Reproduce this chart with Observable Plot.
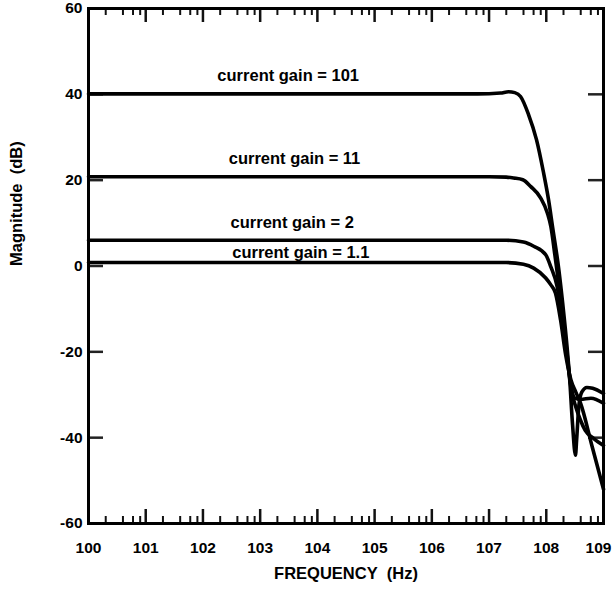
<!DOCTYPE html>
<html>
<head>
<meta charset="utf-8">
<script src="https://cdn.jsdelivr.net/npm/d3@7"></script>
<script src="https://cdn.jsdelivr.net/npm/@observablehq/plot@0.6"></script>
<style>
  html, body { margin: 0; padding: 0; background: #fff; }
  #chart g[aria-label$="tick label"] { font-size: 15.5px; font-weight: bold; fill: #000; }
</style>
</head>
<body>
<div id="chart"></div>
<script>
// Closed-loop magnitude response for four current gains.
// Frequencies are given as log10(Hz); magnitudes in dB.
const gainNames = ["current gain = 101", "current gain = 11", "current gain = 2", "current gain = 1.1"];

const logF101 = [0, 2, 4, 6, 6.8, 7.2, 7.34, 7.45, 7.55, 7.69, 7.83, 7.95, 8.04, 8.11, 8.22, 8.29, 8.36, 8.41, 8.46, 8.51, 8.53, 8.57, 8.62, 8.71, 8.81, 9.0];
const db101   = [40.1, 40.1, 40.1, 40.1, 40.1, 40.3, 40.6, 40.4, 39.5, 35.3, 29.4, 21.9, 15.4, 9.1, -0.9, -9.1, -18.4, -26.6, -37.1, -44.1, -40.6, -32.5, -29.4, -28.3, -28.5, -29.7];

const logF11 = [0, 2, 4, 6, 7.0, 7.3, 7.43, 7.59, 7.73, 7.9, 8.02, 8.08, 8.15, 8.22, 8.29, 8.36, 8.43, 8.5, 8.6, 8.78, 9.0];
const db11   = [20.8, 20.8, 20.8, 20.8, 20.8, 20.7, 20.5, 20.1, 18.5, 15.9, 12.3, 9.2, 2.6, -4.4, -12.1, -20.1, -27.8, -30.8, -31.1, -30.8, -32.0];

const logF2 = [0, 2, 4, 6, 7.0, 7.3, 7.6, 7.78, 7.99, 8.08, 8.19, 8.27, 8.36, 8.44, 8.52, 8.6, 8.68, 8.83, 9.0];
const db2   = [6.0, 6.0, 6.0, 6.0, 6.0, 6.0, 5.6, 4.6, 2.6, -0.2, -4.8, -11.4, -20.8, -29.0, -33.0, -36.0, -38.3, -40.2, -41.8];

const logF1p1 = [0, 2, 4, 6, 7.0, 7.3, 7.6, 7.78, 7.99, 8.08, 8.16, 8.25, 8.34, 8.43, 8.52, 8.6, 8.8, 9.0];
const db1p1   = [0.8, 0.8, 0.8, 0.8, 0.8, 0.8, 0.4, -0.5, -2.8, -4.4, -6.3, -12.6, -20.8, -26.5, -29.5, -32.0, -42.0, -52.0];

// Where each curve's caption sits along the flat part (log10 Hz)
const labelLogF = [3.49, 3.6, 3.56, 3.71];

// Axis ticks
const decades = [0, 1, 2, 3, 4, 5, 6, 7, 8, 9];
const xTickLabels = ["100", "101", "102", "103", "104", "105", "106", "107", "108", "109"];
const minorMultipliers = [2, 4, 6, 8];
const yTicks = [60, 40, 20, 0, -20, -40, -60];
const yInnerTicks = [40, 20, 0, -20, -40];

const seriesLogF = [logF101, logF11, logF2, logF1p1];
const seriesDb = [db101, db11, db2, db1p1];

const response = seriesLogF.flatMap((fs, s) =>
  fs.map((lf, i) => ({ gain: gainNames[s], f: 10 ** lf, db: seriesDb[s][i] }))
);
const captions = gainNames.map((name, s) => ({ name, f: 10 ** labelLogF[s], db: seriesDb[s][0] }));

const majorX = decades.slice(1, -1).map(k => 10 ** k);
const minorX = decades.slice(0, -1).flatMap(k => minorMultipliers.map(m => m * 10 ** k));

const frameH = 592 - 8 - 69;
const frameW = 615 - 88 - 12;

// decade labels under the frame; the last one is nudged inward to stay on the canvas
const decadeLabel = (ks, dx) => Plot.text(ks, {
  x: k => 10 ** k,
  text: k => xTickLabels[k],
  frameAnchor: "bottom",
  lineAnchor: "top",
  dy: 18,
  dx,
  fontSize: 15.5,
  fontWeight: "bold",
  fill: "#000"
});

const chart = Plot.plot({
  width: 615,
  height: 592,
  marginLeft: 88,
  marginRight: 12,
  marginTop: 8,
  marginBottom: 69,
  x: { type: "log", domain: [1, 1e9], axis: null },
  y: { domain: [-60, 60] },
  style: {
    fontFamily: "'Liberation Sans', Arial, sans-serif",
    fontSize: "15px",
    fontWeight: "bold",
    color: "#000",
    background: "#fff"
  },
  marks: [
    decadeLabel(decades.slice(0, -1), 0),
    decadeLabel(decades.slice(-1), -5),
    Plot.axisY({
      ticks: yTicks,
      tickSize: 0,
      tickPadding: 6,
      tickFormat: d => String(d),
      fill: "#000",
      label: null
    }),
    // inward ticks along the bottom and top edges
    Plot.ruleX(minorX, { x: d => d, insetTop: frameH - 7, stroke: "#111", strokeWidth: 2 }),
    Plot.ruleX(minorX, { x: d => d, insetBottom: frameH - 7, stroke: "#111", strokeWidth: 2 }),
    Plot.ruleX(majorX, { x: d => d, insetTop: frameH - 14, stroke: "#111", strokeWidth: 2.5 }),
    Plot.ruleX(majorX, { x: d => d, insetBottom: frameH - 14, stroke: "#111", strokeWidth: 2.5 }),
    // inward ticks along the left and right edges
    Plot.ruleY(yInnerTicks, { y: d => d, insetRight: frameW - 15, stroke: "#222", strokeWidth: 2.5 }),
    Plot.ruleY(yInnerTicks, { y: d => d, insetLeft: frameW - 15, stroke: "#222", strokeWidth: 2.5 }),
    Plot.line(response, {
      x: "f",
      y: "db",
      z: "gain",
      stroke: "#000",
      strokeWidth: 3.6,
      curve: "monotone-x"
    }),
    Plot.frame({ stroke: "#000", strokeWidth: 3 }),
    Plot.text(captions.slice(0, 3), { x: "f", y: "db", text: "name", dy: -18, fontSize: 16.5, fontWeight: "bold", fill: "#000" }),
    Plot.text(captions.slice(3), { x: "f", y: "db", text: "name", dy: -9.5, fontSize: 16.5, fontWeight: "bold", fill: "#000" }),
    Plot.text(["FREQUENCY\u00a0 (Hz)"], { frameAnchor: "bottom", dy: 55, fontSize: 16.5, fontWeight: "bold", fill: "#000" }),
    Plot.text(["Magnitude\u00a0 (dB)"], { frameAnchor: "left", dx: -72, rotate: -90, fontSize: 16.5, fontWeight: "bold", fill: "#000" })
  ]
});

document.getElementById("chart").appendChild(chart);
</script>
</body>
</html>
